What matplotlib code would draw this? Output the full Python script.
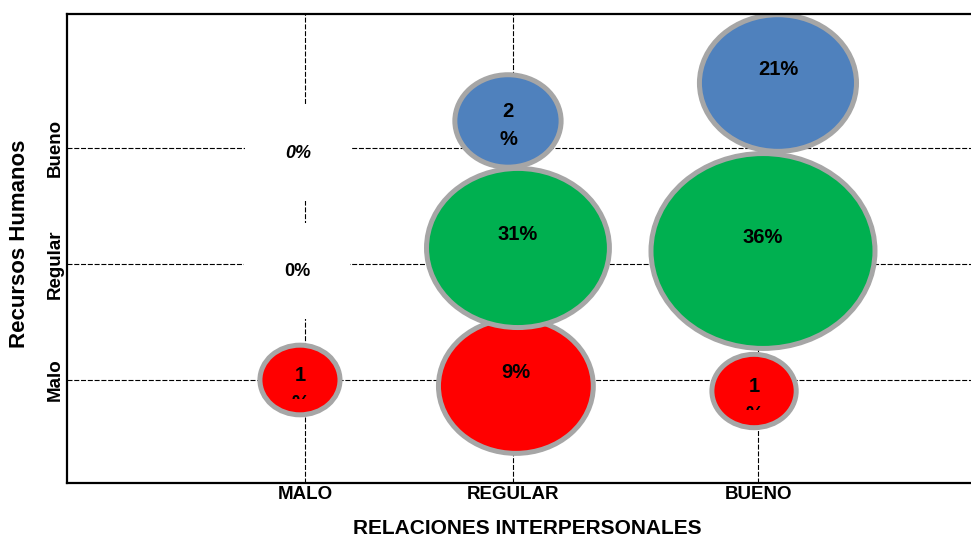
import numpy as np
import matplotlib.pyplot as plt
from matplotlib.patches import Ellipse, Rectangle

# categorias
rel_interp = ['MALO', 'REGULAR', 'BUENO']      # eje x
rec_hum = ['Malo', 'Regular', 'Bueno']         # eje y
x_ticks = [1.0, 2.0, 3.18]
y_ticks = [1.0, 2.0, 3.0]

# porcentajes por serie (fila de recursos humanos)
pct_malo = [1, 9, 1]
pct_regular = [0, 31, 36]
pct_bueno = [0, 2, 21]

# posiciones de las burbujas
x_malo = [0.976, 2.014, 3.159]
y_malo = [1.0, 0.948, 0.905]
x_regular = [0.962, 2.024, 3.202]
y_regular = [1.819, 2.138, 2.112]
x_bueno = [0.966, 1.976, 3.274]
y_bueno = [2.836, 3.233, 3.560]

# tamano de burbuja
tam_malo = [4.6, 17.2, 5.1]
tam_regular = [0, 24.0, 36]
tam_bueno = [0, 8.1, 17.7]

colores = {'Malo': '#FF0000', 'Regular': '#00B050', 'Bueno': '#4F81BD'}
series = [('Malo', x_malo, y_malo, pct_malo, tam_malo),
          ('Regular', x_regular, y_regular, pct_regular, tam_regular),
          ('Bueno', x_bueno, y_bueno, pct_bueno, tam_bueno)]

plt.rcParams['font.family'] = ['Liberation Sans', 'DejaVu Sans']

fig = plt.figure(figsize=(9.71, 5.38), dpi=100)
ax = fig.add_axes([67/971, 55/538, 904/971, 469/538])
xlim = (-0.144, 4.202)
ylim = (0.112, 4.155)
ax.set_xlim(xlim)
ax.set_ylim(ylim)

# pixeles por unidad de datos
px_x = 904 / (xlim[1] - xlim[0])
px_y = 469 / (ylim[1] - ylim[0])
d_max = 224.0   # diametro (px) de la burbuja mayor
aspect = 0.87

for nombre, xs, ys, pcts, tams in series:
    for x, y, p, t in zip(xs, ys, pcts, tams):
        if t > 0:
            d = d_max * np.sqrt(t / max(tam_regular))
            e = Ellipse((x, y), d / px_x, d * aspect / px_y,
                        facecolor=colores[nombre], edgecolor='#A6A6A6',
                        linewidth=3.6, zorder=2)
            ax.add_patch(e)
        if p == 0:
            style = 'italic' if nombre == 'Bueno' else 'normal'
            ax.annotate('0%', (x, y), xytext=(0, 10), textcoords='offset points',
                        ha='center', va='center', fontsize=13,
                        fontweight='bold', fontstyle=style, zorder=4,
                        bbox=dict(boxstyle='square,pad=2.2', fc='white',
                                  ec='none'))
        elif p <= 2:
            # etiqueta partida en dos lineas (como en Excel)
            dy = -7 if p == 1 else -3
            txt = ax.annotate('{}\n%'.format(p), (x, y), xytext=(0, dy),
                              textcoords='offset points', ha='center',
                              va='center', fontsize=14.5, fontweight='bold',
                              linespacing=1.6, zorder=4)
            if p == 1:
                # el "%" queda cortado por el cuadro de la etiqueta
                clip = Rectangle((x - 1, y - 19 / px_y), 2, 2,
                                 transform=ax.transData)
                txt.set_clip_on(True)
                txt.set_clip_path(clip)
        else:
            ax.annotate('{}%'.format(p), (x, y), xytext=(0, 10),
                        textcoords='offset points', ha='center', va='center',
                        fontsize=14.5, fontweight='bold', zorder=4)

ax.set_xticks(x_ticks)
ax.set_xticklabels(rel_interp, fontsize=13.5, fontweight='bold')
ax.set_yticks(y_ticks)
ax.set_yticklabels(rec_hum, fontsize=13.5, fontweight='bold', rotation=90,
                   va='center')
ax.tick_params(length=0, pad=2)

ax.set_axisbelow(True)
ax.grid(True, color='black', linewidth=0.8, linestyle=(0, (4.5, 1.6)))

for s in ['left', 'bottom', 'top']:
    ax.spines[s].set_linewidth(1.6)
    ax.spines[s].set_color('black')
ax.spines['right'].set_visible(False)

ax.set_xlabel('RELACIONES INTERPERSONALES', fontsize=15, fontweight='bold')
ax.xaxis.set_label_coords(0.509, -0.077)
ax.set_ylabel('Recursos Humanos', fontsize=16, fontweight='bold')
ax.yaxis.set_label_coords(-0.041, 0.51)

fig.savefig('out.png', dpi=100)
